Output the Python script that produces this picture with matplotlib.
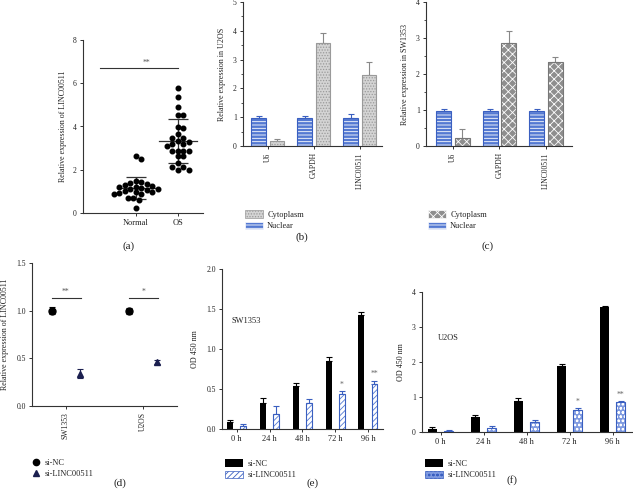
import numpy as np
import matplotlib
matplotlib.use('Agg')
import matplotlib.pyplot as plt
from matplotlib.patches import Patch
from matplotlib.lines import Line2D

# ---- data ----
# (a) relative expression of LINC00511, tissue samples
normal_vals = [2.62, 2.50, 1.50, 1.45, 1.38, 1.35, 1.30, 1.25, 1.22, 1.20, 1.15, 1.12,
               1.10, 1.05, 1.00, 0.98, 0.95, 0.92, 0.90, 0.88, 0.70, 0.68, 0.60, 0.25]
os_vals = [5.80, 5.38, 4.89, 4.51, 4.54, 3.97, 3.92, 3.66, 3.46, 3.49, 3.28, 3.31, 3.20,
           3.20, 3.12, 2.89, 2.89, 2.89, 2.89, 2.62, 2.62, 2.31, 2.15, 2.15, 2.00, 1.97]
groups_a = ['Normal', 'OS']

# (b) U2OS fractionation / (c) SW1353 fractionation
genes = ['U6', 'GAPDH', 'LINC00511']
u2os_nuc = [0.96, 0.96, 0.96]
u2os_nuc_err = [0.08, 0.08, 0.15]
u2os_cyto = [0.19, 3.57, 2.47]
u2os_cyto_err = [0.05, 0.37, 0.45]
sw_nuc = [0.98, 0.98, 0.98]
sw_nuc_err = [0.05, 0.06, 0.05]
sw_cyto = [0.21, 2.86, 2.32]
sw_cyto_err = [0.25, 0.34, 0.16]

# (d) knockdown
cells = ['SW1353', 'U2OS']
kd_nc = [1.0, 1.0]
kd_nc_err = [0.04, 0.03]
kd_si = [0.34, 0.46]
kd_si_err = [0.05, 0.02]
kd_sig = ['**', '*']

# (e) SW1353 CCK-8 / (f) U2OS CCK-8
hours = ['0 h', '24 h', '48 h', '72 h', '96 h']
sw_od_nc = [0.083, 0.33, 0.54, 0.85, 1.425]
sw_od_nc_err = [0.034, 0.055, 0.04, 0.055, 0.04]
sw_od_si = [0.033, 0.19, 0.33, 0.44, 0.56]
sw_od_si_err = [0.025, 0.095, 0.04, 0.03, 0.045]
u2_od_nc = [0.076, 0.43, 0.88, 1.88, 3.57]
u2_od_nc_err = [0.065, 0.07, 0.08, 0.06, 0.03]
u2_od_si = [0.03, 0.11, 0.30, 0.64, 0.86]
u2_od_si_err = [0.02, 0.06, 0.04, 0.06, 0.04]
od_sig = ['', '', '', '*', '**']

# ---- style ----
plt.rcParams['font.family'] = ['Liberation Serif', 'DejaVu Serif']
plt.rcParams['hatch.linewidth'] = 0.6
TXT = '#222222'
BLUE = '#5479d2'
BLUE_EDGE = '#3a5fc0'
W, H = 633, 496
fig = plt.figure(figsize=(W / 100, H / 100), dpi=100)


def add_ax(l, r, t, b):
    ax = fig.add_axes([l / W, 1 - b / H, (r - l) / W, (b - t) / H])
    for s in ['top', 'right']:
        ax.spines[s].set_visible(False)
    for s in ['left', 'bottom']:
        ax.spines[s].set_linewidth(0.8)
        ax.spines[s].set_color('#333333')
    ax.tick_params(labelsize=5.5, length=2.5, width=0.7, colors='#333333', labelcolor=TXT, pad=2)
    return ax


def swarm(vals, xc, sx, sy, d):
    vals = np.asarray(vals)
    xs = np.zeros(len(vals))
    placed = []
    for i in np.argsort(-vals):
        y = vals[i] * sy
        k = 0
        while True:
            ok = None
            for off in ([0.0] if k == 0 else [k * d / 2, -k * d / 2]):
                if all((off - px) ** 2 + (y - py) ** 2 >= d ** 2 for px, py in placed):
                    ok = off
                    break
            if ok is not None:
                break
            k += 1
        placed.append((ok, y))
        xs[i] = xc + ok / sx
    return xs


def hbar(ax, x, h, w, face, hatch, hcolor, edge):
    ax.bar(x, h, w, color=face, hatch=hatch, edgecolor=hcolor, linewidth=0, zorder=2)
    ax.bar(x, h, w, fill=False, edgecolor=edge, linewidth=0.8, zorder=3)


def up_err(ax, x, h, e, color, cap):
    ax.errorbar(x, h, yerr=[np.zeros(len(e)), e], fmt='none', ecolor=color,
                elinewidth=0.8, capsize=cap, capthick=0.8, zorder=1)


# ---- (a) ----
ax = add_ax(83, 203, 40, 213)
for gi, vals in enumerate([normal_vals, os_vals]):
    xs = swarm(vals, gi, 42, 21.6, 5.5)
    ax.plot(xs, vals, 'o', color='black', ms=3.3, zorder=3)
    m = np.mean(vals)
    sd = np.std(vals, ddof=1)
    ax.plot([gi - 0.45, gi + 0.45], [m, m], color='#333333', lw=0.9, zorder=2)
    ax.errorbar([gi], [m], yerr=[sd], fmt='none', ecolor='#333333', elinewidth=0.9,
                capsize=7, capthick=0.9, zorder=2)
ax.plot([-0.86, 1.0], [6.7, 6.7], color='#333333', lw=0.8)
ax.text(0.25, 6.75, '**', ha='center', va='bottom', fontsize=5.5, color='#555555')
ax.set_xlim(-1.26, 1.6)
ax.set_ylim(0, 8)
ax.set_yticks([0, 2, 4, 6, 8])
ax.set_xticks([0, 1])
ax.set_xticklabels(groups_a, fontsize=6)
ax.set_ylabel('Relative expression of LINC00511', fontsize=5.8, color=TXT, labelpad=4)
fig.text(129 / W, 1 - 246 / H, '(a)', ha='center', va='center', fontsize=8, color=TXT)


# ---- (b) & (c) ----
def frac_panel(l, r, t, b, nuc, nuc_err, cyto, cyto_err, ymax, xlim, ylab, cyto_face, cyto_hatch,
               cyto_hcol, cyto_edge, leg_y, lab, lab_xy):
    ax = add_ax(l, r, t, b)
    x = np.arange(len(genes))
    w = 0.32
    hbar(ax, x - 0.2, nuc, w, BLUE, '-----', 'white', BLUE_EDGE)
    hbar(ax, x + 0.2, cyto, w, cyto_face, cyto_hatch, cyto_hcol, cyto_edge)
    up_err(ax, x - 0.2, nuc, nuc_err, BLUE_EDGE, 2.2)
    up_err(ax, x + 0.2, cyto, cyto_err, '#888888', 2.2)
    ax.set_xlim(*xlim)
    ax.set_ylim(0, ymax)
    ax.set_yticks(np.arange(0, ymax + 1))
    ax.set_yticks(np.arange(0, ymax + 0.01, 0.5), minor=True)
    ax.tick_params(which='minor', length=1.5, width=0.6, colors='#333333')
    ax.set_xticks(x)
    ax.set_xticklabels(genes, rotation=90, fontsize=5.5)
    ax.set_ylabel(ylab, fontsize=5.8, color=TXT, labelpad=5)
    handles = [Patch(facecolor=cyto_face, hatch=cyto_hatch, edgecolor=cyto_hcol, linewidth=0.5),
               Patch(facecolor=BLUE, hatch='-----', edgecolor='white', linewidth=0.5)]
    ax.legend(handles, ['Cytoplasm', 'Nuclear'], loc='upper left', frameon=False,
              bbox_to_anchor=(l / W - 0.004, 1 - leg_y / H), bbox_transform=fig.transFigure,
              fontsize=6, handlelength=2.2, handleheight=1.0, labelspacing=0.35, borderpad=0,
              handletextpad=0.5, labelcolor=TXT)
    fig.text(lab_xy[0] / W, 1 - lab_xy[1] / H, lab, ha='center', va='center', fontsize=8, color=TXT)


frac_panel(243, 382, 2, 146, u2os_nuc, u2os_nuc_err, u2os_cyto, u2os_cyto_err, 5, (-0.54, 2.48),
           'Relative expression in U2OS', '#d4d4d4', '......', '#9a9a9a', '#9a9a9a', 206, '(b)', (302, 237))
frac_panel(426, 572, 2, 146, sw_nuc, sw_nuc_err, sw_cyto, sw_cyto_err, 4, (-0.58, 2.56),
           'Relative expression in SW1353', '#8e8e8e', 'xxxx', 'white', '#777777', 206, '(c)', (488, 246))

# ---- (d) ----
ax = add_ax(32, 177, 263, 406)
x = np.arange(len(cells))
ax.errorbar(x - 0.18, kd_nc, yerr=kd_nc_err, fmt='o', color='black', ms=5, capsize=2.5,
            elinewidth=0.8, capthick=0.8, zorder=3)
ax.errorbar(x + 0.18, kd_si, yerr=kd_si_err, fmt='^', color='#1b1f4f', ms=5, capsize=2.5,
            elinewidth=0.8, capthick=0.8, zorder=3)
for i in range(len(cells)):
    ax.plot([x[i] - 0.18, x[i] + 0.2], [1.13, 1.13], color='#333333', lw=0.8)
    ax.text(x[i], 1.15, kd_sig[i], ha='center', va='bottom', fontsize=5.5, color='#555555')
ax.set_xlim(-0.44, 1.44)
ax.set_ylim(0, 1.5)
ax.set_yticks([0, 0.5, 1.0, 1.5])
ax.set_yticklabels(['0.0', '0.5', '1.0', '1.5'])
ax.set_xticks(x)
ax.set_xticklabels(cells, rotation=90, fontsize=5.5)
ax.set_ylabel('Relative expression of LINC00511', fontsize=5.8, color=TXT, labelpad=5)
handles = [Line2D([], [], marker='o', color='black', ls='none', ms=4.5),
           Line2D([], [], marker='^', color='#1b1f4f', ls='none', ms=4.5)]
ax.legend(handles, ['si-NC', 'si-LINC00511'], loc='upper left', frameon=False,
          bbox_to_anchor=(28 / W, 1 - 455 / H), bbox_transform=fig.transFigure, fontsize=6,
          handlelength=1.0, labelspacing=0.35, borderpad=0, handletextpad=0.5, labelcolor=TXT)
fig.text(120 / W, 1 - 483 / H, '(d)', ha='center', va='center', fontsize=8, color=TXT)


# ---- (e) & (f) ----
def od_panel(l, r, t, b, nc, nc_err, si, si_err, ymax, step, xlim, w, off, si_face, si_hatch,
             si_hcol, cell, cell_xy, lab, lab_xy, fmt):
    ax = add_ax(l, r, t, b)
    x = np.arange(len(hours))
    ax.bar(x - off, nc, w, color='black', zorder=2)
    up_err(ax, x - off, nc, nc_err, 'black', 2.0)
    hbar(ax, x + off, si, w, si_face, si_hatch, si_hcol, BLUE_EDGE)
    up_err(ax, x + off, si, si_err, BLUE_EDGE, 2.0)
    for i in range(len(hours)):
        if od_sig[i]:
            ax.text(x[i] + off, si[i] + si_err[i] + ymax * 0.015, od_sig[i], ha='center',
                    va='bottom', fontsize=5.5, color='#666666')
    ax.set_xlim(*xlim)
    ax.set_ylim(0, ymax)
    ticks = np.arange(0, ymax + 0.01, step)
    ax.set_yticks(ticks)
    ax.set_yticklabels([fmt.format(v) for v in ticks])
    ax.set_xticks(x)
    ax.set_xticklabels(hours, fontsize=6)
    ax.set_ylabel('OD 450 nm', fontsize=5.8, color=TXT, labelpad=5)
    ax.text(cell_xy[0], cell_xy[1], cell, transform=ax.transData, fontsize=6, color=TXT,
            ha='left', va='center')
    handles = [Patch(facecolor='black'),
               Patch(facecolor=si_face, hatch=si_hatch, edgecolor=BLUE_EDGE, linewidth=0.5)]
    ax.legend(handles, ['si-NC', 'si-LINC00511'], loc='upper left', frameon=False,
              bbox_to_anchor=(l / W - 0.002, 1 - 455 / H), bbox_transform=fig.transFigure,
              fontsize=6, handlelength=2.2, handleheight=1.0, labelspacing=0.35, borderpad=0,
              handletextpad=0.5, labelcolor=TXT)
    fig.text(lab_xy[0] / W, 1 - lab_xy[1] / H, lab, ha='center', va='center', fontsize=8, color=TXT)


od_panel(222, 383, 269, 429, sw_od_nc, sw_od_nc_err, sw_od_si, sw_od_si_err, 2.0, 0.5,
         (-0.45, 4.46), 0.18, 0.2, 'white', '//////', BLUE, 'SW1353', (-0.17, 1.35), '(e)', (313, 483),
         '{:.1f}')
od_panel(422, 633, 292, 432, u2_od_nc, u2_od_nc_err, u2_od_si, u2_od_si_err, 4, 1,
         (-0.43, 4.47), 0.21, 0.19, '#7f9ae0', 'oooo', 'white', 'U2OS', (-0.06, 2.7), '(f)', (512, 480),
         '{:.0f}')

fig.savefig('out.png', dpi=100)
